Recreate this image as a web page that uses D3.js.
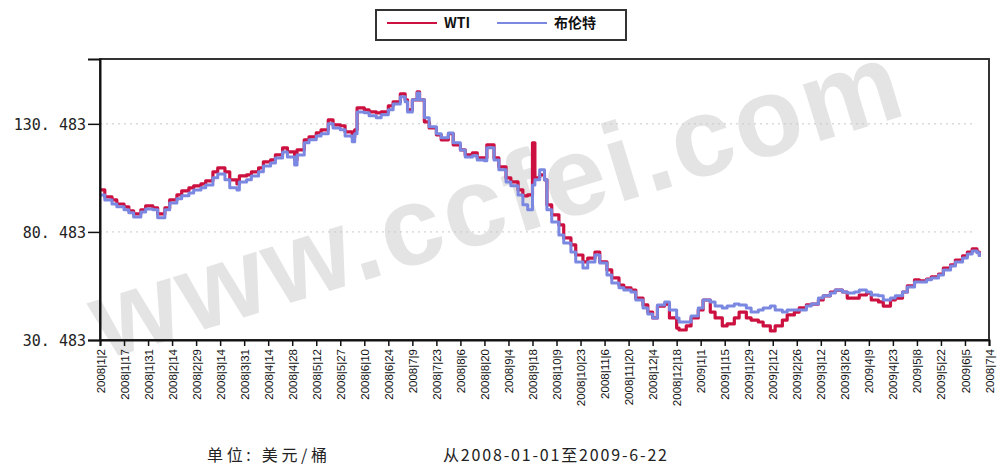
<!DOCTYPE html>
<html>
<head>
<meta charset="utf-8">
<script src="https://cdn.jsdelivr.net/npm/d3@7"></script>
<style>
  body { margin: 0; background: #fff; }
  svg { display: block; }
  .ylab { font-family: "DejaVu Sans Mono", monospace; font-size: 15px; fill: #222; }
  .xlab { font-family: "Liberation Sans", Arial, sans-serif; font-size: 11.5px; fill: #111; }
  .foot { font-family: "Noto Sans CJK SC", sans-serif; font-size: 16px; fill: #222; }
  .leg { font-family: "Noto Sans CJK SC", sans-serif; font-size: 14px; font-weight: bold; fill: #111; }
</style>
</head>
<body>
<script>
(function () {

//tick labels along the x axis (one every 10 trading days)
var tickLabels = ["2008|1|2", "2008|1|17", "2008|1|31", "2008|2|14", "2008|2|29", "2008|3|14",
    "2008|3|31", "2008|4|14", "2008|4|28", "2008|5|12", "2008|5|27", "2008|6|10", "2008|6|24",
    "2008|7|9", "2008|7|23", "2008|8|6", "2008|8|20", "2008|9|4", "2008|9|18", "2008|10|9",
    "2008|10|23", "2008|11|6", "2008|11|20", "2008|12|4", "2008|12|18", "2009|1|1", "2009|1|15",
    "2009|1|29", "2009|2|12", "2009|2|26", "2009|3|12", "2009|3|26", "2009|4|9", "2009|4|23",
    "2009|5|8", "2009|5|22", "2009|6|5", "2008|7|4"];

var yTicks = [30.483, 80.483, 130.483];

//trading day index of each reading
var days = [0, 2, 5, 7, 10, 12, 14, 17, 19, 22, 24, 27, 29, 32, 34, 37, 39, 42, 44, 47, 49, 52, 54, 57, 58,
    61, 63, 66, 68, 71, 73, 76, 78, 81, 82, 85, 87, 90, 92, 95, 97, 100, 102, 105, 106, 107, 110, 112,
    115, 117, 120, 122, 125, 127, 128, 130, 132, 133, 135, 137, 140, 142, 145, 147, 150, 152, 155, 157,
    160, 161, 164, 166, 169, 171, 174, 176, 178, 180, 181, 183, 185, 186, 188, 191, 193, 196, 198, 201,
    203, 206, 208, 211, 213, 216, 218, 221, 223, 226, 228, 230, 232, 235, 237, 240, 241, 244, 246, 249,
    251, 254, 256, 259, 261, 264, 266, 269, 271, 274, 276, 279, 281, 284, 286, 289, 291, 294, 296, 299,
    301, 304, 306, 309, 311, 314, 316, 319, 321, 324, 326, 329, 331, 334, 336, 339, 341, 344, 346, 349,
    351, 354, 356, 359, 361, 363, 365, 366];

//WTI price, USD / barrel
var wti = [99.9, 96.7, 95.3, 93.4, 92.1, 90.2, 88.8, 90.7, 92.5, 91.6, 88.8, 91.6, 95.3, 97.6, 99.5, 100.9,
    101.8, 102.7, 104.1, 108.3, 110.1, 108.3, 104.6, 102.7, 106.4, 106.9, 108.3, 110.1, 112.9, 113.8,
    116.1, 119.4, 117.5, 113.8, 118.4, 123.1, 124.5, 126.3, 127.7, 132.3, 130.0, 129.6, 126.8, 124.0,
    127.7, 137.9, 137.0, 136.0, 135.6, 136.0, 138.8, 140.7, 144.4, 141.6, 137.0, 141.6, 145.3, 141.6,
    131.4, 128.6, 125.4, 123.1, 125.9, 120.8, 118.4, 116.1, 117.1, 114.7, 114.7, 120.8, 114.7, 110.6,
    105.5, 103.6, 99.9, 97.2, 97.6, 121.7, 105.5, 106.9, 104.6, 93.0, 88.4, 83.7, 77.7, 74.5, 69.8,
    66.6, 68.4, 71.2, 66.6, 62.9, 59.2, 55.9, 54.6, 53.6, 49.9, 46.7, 43.4, 40.7, 46.2, 47.1, 40.7,
    36.0, 35.1, 37.0, 40.7, 44.4, 49.0, 43.4, 40.7, 37.0, 37.9, 40.7, 43.4, 40.7, 39.7, 38.8, 37.0,
    34.7, 37.0, 39.7, 42.1, 43.4, 45.3, 46.7, 47.1, 49.0, 50.9, 52.7, 53.6, 52.7, 49.9, 49.9, 51.3,
    52.2, 49.0, 48.1, 46.2, 49.0, 49.9, 52.7, 55.5, 58.3, 57.8, 58.7, 59.7, 61.0, 63.8, 65.2, 67.5,
    69.4, 71.2, 72.6, 71.2, 69.4];

//Brent price, USD / barrel
var brent = [97.6, 95.3, 93.4, 92.1, 90.7, 89.3, 87.4, 89.7, 91.1, 90.7, 87.0, 90.7, 93.9, 95.8, 97.2, 98.5,
    99.9, 100.9, 102.2, 105.5, 107.3, 104.6, 100.9, 99.9, 103.6, 104.6, 106.4, 108.3, 111.0, 112.4,
    114.7, 117.5, 115.2, 111.5, 116.1, 121.7, 123.1, 124.9, 125.9, 130.5, 128.6, 127.7, 124.9, 122.2,
    125.9, 136.0, 135.6, 134.2, 133.3, 134.7, 137.0, 139.7, 143.0, 140.7, 136.0, 141.6, 144.8, 141.6,
    133.3, 129.1, 125.9, 124.0, 126.3, 121.7, 118.4, 115.2, 115.7, 113.8, 113.4, 119.4, 113.8, 109.2,
    103.6, 101.8, 97.6, 93.0, 90.7, 102.2, 104.6, 109.2, 104.6, 90.7, 85.1, 79.1, 75.4, 71.2, 66.6,
    63.8, 66.6, 69.8, 66.1, 60.6, 56.9, 54.6, 53.6, 52.7, 49.0, 45.3, 42.5, 40.7, 46.7, 48.1, 44.4,
    40.7, 38.8, 38.8, 41.6, 45.3, 49.0, 48.1, 46.2, 45.3, 46.2, 47.1, 46.7, 45.3, 43.4, 44.4, 45.3,
    46.2, 44.4, 43.4, 44.4, 44.4, 44.4, 46.2, 47.1, 49.9, 50.9, 52.2, 53.6, 52.7, 52.2, 52.7, 53.6,
    52.7, 51.3, 50.9, 49.0, 49.9, 50.9, 52.7, 55.0, 57.3, 57.3, 58.3, 59.2, 60.6, 62.9, 64.7, 66.6,
    68.4, 70.3, 71.7, 70.8, 68.9];

var width = 997, height = 468;
var left = 100, right = 989, top = 59, bottom = 340;

var svg = d3.select("body").append("svg")
    .attr("width", width)
    .attr("height", height);

var xScale = d3.scaleLinear()
    .domain([0, (tickLabels.length - 1) * 10])
    .range([left, right]);

var yScale = d3.scaleLinear()
    .domain([30.483, 160.483])
    .range([bottom, top]);

//watermark
svg.append("text")
    .attr("transform", "translate(104,360) rotate(-17)")
    .style("font-family", "Liberation Sans, Arial, sans-serif")
    .style("font-size", "112px")
    .style("font-weight", "bold")
    .style("letter-spacing", "3px")
    .style("fill", "#dedede")
    .style("opacity", 0.8)
    .text("www.ccfei.com");

//dotted grid lines
svg.selectAll(".grid")
    .data(yTicks.slice(1))
    .enter()
    .append("line")
    .attr("class", "grid")
    .attr("x1", left)
    .attr("x2", right - 14)
    .attr("y1", function (d) { return yScale(d); })
    .attr("y2", function (d) { return yScale(d); })
    .style("stroke", "#c8c8c8")
    .style("stroke-width", 1)
    .style("stroke-dasharray", "2,4");

//series lines
var rows = days.map(function (d, i) {
    return { day: d, wti: wti[i], brent: brent[i] };
});

function makeLine(key) {
    return d3.line()
        .x(function (d) { return xScale(d.day); })
        .y(function (d) { return yScale(d[key]); })
        .curve(d3.curveStepAfter);
}

svg.append("path")
    .datum(rows)
    .attr("d", makeLine("wti"))
    .style("fill", "none")
    .style("stroke", "#cc1040")
    .style("stroke-width", 3.2)
    .style("stroke-linejoin", "round");

svg.append("path")
    .datum(rows)
    .attr("d", makeLine("brent"))
    .style("fill", "none")
    .style("stroke", "#7a88e2")
    .style("stroke-width", 3)
    .style("stroke-linejoin", "round");

//frame
svg.append("rect")
    .attr("x", left)
    .attr("y", top)
    .attr("width", right - left)
    .attr("height", bottom - top)
    .style("fill", "none")
    .style("stroke", "#333")
    .style("stroke-width", 2);

//y axis
var yAxis = d3.axisLeft(yScale)
    .tickValues(yTicks)
    .tickSize(12)
    .tickFormat(function (d) { return d3.format(".3f")(d).replace(".", ". "); });

var yG = svg.append("g")
    .attr("transform", "translate(" + left + ",0)")
    .call(yAxis);
yG.select(".domain").style("stroke", "#111").style("stroke-width", 2);
yG.selectAll(".tick line").style("stroke", "#111").style("stroke-width", 1.5);
yG.selectAll(".tick text").attr("class", "ylab").attr("x", -14).attr("dy", "0.35em");

//x axis
var xAxis = d3.axisBottom(xScale)
    .tickValues(d3.range(tickLabels.length).map(function (i) { return i * 10; }))
    .tickSize(6)
    .tickFormat(function (d) { return tickLabels[d / 10]; });

var xG = svg.append("g")
    .attr("transform", "translate(0," + bottom + ")")
    .call(xAxis);
xG.select(".domain").style("stroke", "#111").style("stroke-width", 2);
xG.selectAll(".tick line").style("stroke", "#111").style("stroke-width", 1.5);
xG.selectAll(".tick text")
    .attr("class", "xlab")
    .attr("transform", "rotate(-90)")
    .attr("x", -9)
    .attr("y", 0)
    .attr("dy", "0.35em")
    .style("text-anchor", "end");

//legend
var legend = svg.append("g");
legend.append("rect")
    .attr("x", 376).attr("y", 10)
    .attr("width", 250).attr("height", 30)
    .style("fill", "#fff")
    .style("stroke", "#333")
    .style("stroke-width", 2);

var legItems = [
    { name: "WTI", color: "#cc1040", x: 387 },
    { name: "布伦特", color: "#7a88e2", x: 497 }
];

legend.selectAll(".legline")
    .data(legItems)
    .enter()
    .append("line")
    .attr("x1", function (d) { return d.x; })
    .attr("x2", function (d) { return d.x + 50; })
    .attr("y1", 23).attr("y2", 23)
    .style("stroke", function (d) { return d.color; })
    .style("stroke-width", 2);

legend.selectAll(".legtext")
    .data(legItems)
    .enter()
    .append("text")
    .attr("class", "leg")
    .attr("x", function (d) { return d.x + 57; })
    .attr("y", 28)
    .text(function (d) { return d.name; });

//footer
svg.append("text")
    .attr("class", "foot")
    .attr("x", 207).attr("y", 461)
    .attr("textLength", 120)
    .text("单位: 美元/桶");

svg.append("text")
    .attr("class", "foot")
    .attr("x", 443).attr("y", 461)
    .attr("textLength", 224)
    .text("从2008-01-01至2009-6-22");

})();
</script>
</body>
</html>
